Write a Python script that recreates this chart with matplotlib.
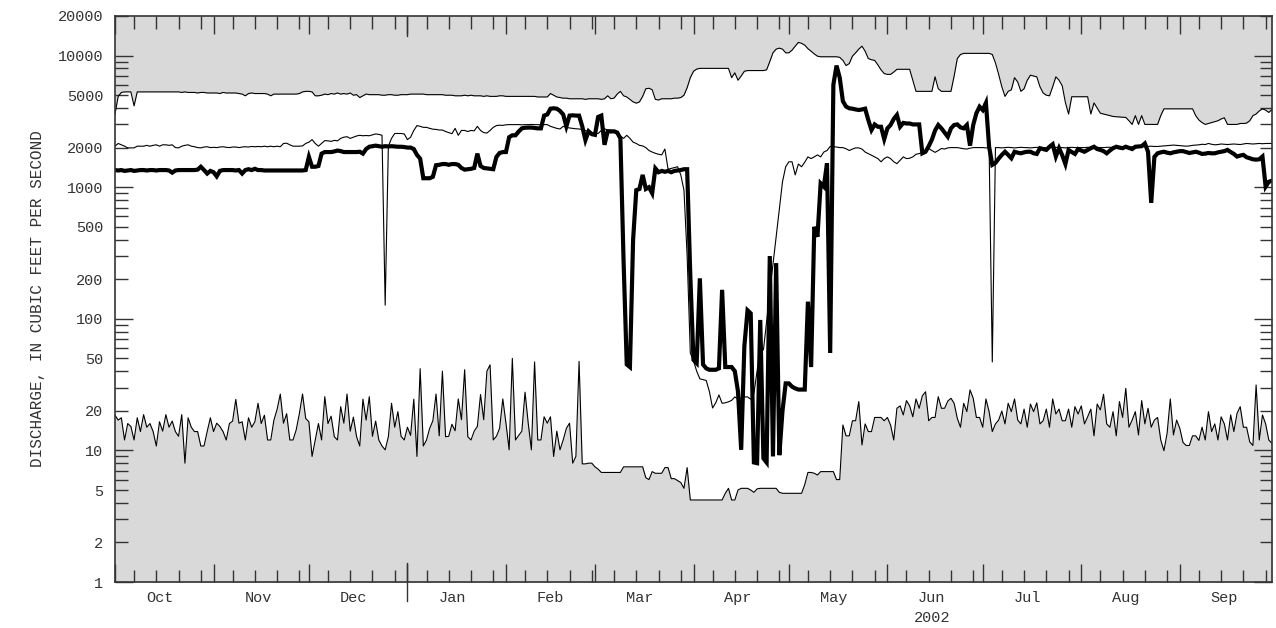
import numpy as np
import pandas as pd
import matplotlib
matplotlib.use("Agg")
import matplotlib.pyplot as plt
import matplotlib.dates as mdates
from matplotlib.ticker import FixedLocator, FuncFormatter, NullFormatter

plt.rcParams["font.family"] = ["Liberation Mono", "DejaVu Sans Mono"]

# water year 2002, one value per day (cfs); rows of 10 days, months Oct..Sep
dates = pd.date_range("2001-10-01", "2002-09-30", freq="D")

max_flow = [
    # Oct
    3600, 4900, 5250, 5300, 5300, 5300, 4150, 5300, 5300, 5300,
    5300, 5300, 5300, 5300, 5300, 5300, 5300, 5300, 5300, 5300,
    5300, 5250, 5300, 5250, 5250, 5250, 5200, 5250, 5250, 5200,
    5200,
    # Nov
    5200, 5200, 5150, 5250, 5200, 5200, 5200, 5200, 5150, 5100,
    4950, 5150, 5200, 5150, 5150, 5150, 5150, 5100, 4950, 5100,
    5100, 5100, 5100, 5100, 5100, 5100, 5100, 5150, 5300, 5350,
    # Dec
    5350, 5300, 4950, 4950, 5000, 5100, 5050, 5150, 5100, 5200,
    5100, 5150, 5100, 5200, 5000, 5050, 4800, 4950, 5100, 5050,
    5050, 5050, 5050, 5000, 5000, 5050, 5050, 5000, 5000, 5050,
    5050,
    # Jan
    5050, 5100, 5100, 5100, 5100, 5100, 5050, 5050, 5050, 5050,
    5050, 5050, 5000, 5000, 5000, 4950, 4950, 4950, 5000, 4950,
    5000, 4950, 4950, 4950, 4900, 4950, 4900, 4900, 4900, 4950,
    4950,
    # Feb
    4900, 4900, 4900, 4900, 4900, 4900, 4900, 4900, 4900, 4900,
    4850, 4850, 4850, 4850, 5150, 5000, 4850, 4800, 4750, 4750,
    4700, 4700, 4700, 4700, 4700, 4650, 4700, 4700,
    # Mar
    4700, 4700, 4650, 4700, 4950, 4700, 4750, 5100, 5350, 4950,
    4850, 4650, 4450, 4350, 4450, 4900, 5600, 5650, 5500, 4650,
    4600, 4700, 4700, 4700, 4700, 4750, 4750, 4800, 5000, 5700,
    6800,
    # Apr
    7600, 7900, 8000, 8000, 8000, 8000, 8000, 8000, 8000, 8000,
    8000, 8000, 6800, 7400, 6500, 7000, 7600, 7700, 7700, 7700,
    7700, 7700, 7700, 7800, 9000, 10500, 11200, 11400, 11200, 10500,
    # May
    10500, 11000, 11800, 12600, 12400, 12000, 11300, 10800, 10300, 9900,
    9800, 9800, 9800, 9800, 9800, 9800, 9700, 9200, 8400, 8700,
    9900, 10500, 11200, 11800, 10800, 9500, 9300, 9200, 8500, 7800,
    7300,
    # Jun
    7200, 7200, 7500, 7870, 7870, 7870, 7870, 7870, 6500, 5350,
    5350, 5350, 5350, 5350, 5350, 6900, 5600, 5350, 5350, 5350,
    5350, 7000, 9500, 10200, 10400, 10400, 10400, 10400, 10400, 10400,
    # Jul
    10400, 10400, 10400, 10200, 8800, 7200, 5800, 4900, 5350, 5500,
    6800, 6300, 5350, 5600, 6500, 7100, 7000, 6900, 5800, 5200,
    5000, 4950, 5800, 6900, 6500, 5900, 4400, 3600, 4870, 4870,
    4870,
    # Aug
    4870, 4870, 4870, 3600, 4370, 4000, 3650, 3600, 3550, 3500,
    3450, 3430, 3420, 3400, 3390, 3200, 3000, 3500, 3000, 3500,
    3000, 3000, 3000, 3000, 3000, 3500, 3940, 3940, 3940, 3940,
    3940,
    # Sep
    3940, 3940, 3940, 3940, 3940, 3500, 3240, 3100, 3000, 3050,
    3100, 3150, 3200, 3300, 3370, 3000, 3000, 3000, 3000, 3050,
    3050, 3070, 3200, 3500, 3600, 3800, 3940, 3850, 3700, 3900,
]

median_flow = [
    # Oct
    2050, 2150, 2100, 2050, 1990, 1990, 1990, 2050, 2050, 2050,
    2080, 2050, 2080, 2100, 2050, 2100, 2100, 2080, 2100, 2000,
    1990, 2050, 2080, 2100, 2050, 2030, 2000, 1990, 2020, 2030,
    2000,
    # Nov
    2010, 2000, 2020, 2030, 2010, 2000, 2020, 2020, 2000, 2020,
    2030, 2020, 2040, 2030, 2040, 2030, 2050, 2030, 2050, 2030,
    2050, 2030, 2150, 2160, 2100, 2050, 2050, 2050, 2060, 2150,
    # Dec
    2200, 2300, 2150, 2050, 2150, 2260, 2250, 2230, 2270, 2250,
    2350, 2400, 2420, 2350, 2400, 2450, 2480, 2460, 2470, 2460,
    2500, 2540, 2520, 2480, 127, 2050, 2350, 2560, 2560, 2560,
    2540,
    # Jan
    2300, 2400, 2700, 2940, 2900, 2850, 2850, 2800, 2760, 2750,
    2720, 2720, 2650, 2600, 2550, 2800, 2480, 2700, 2700, 2650,
    2700, 2680, 2900, 2700, 2600, 2580, 2700, 2850, 2940, 2960,
    2950,
    # Feb
    2980, 2990, 2990, 2990, 2990, 2980, 2990, 2990, 3000, 2990,
    2990, 2980, 2990, 2990, 2900, 2850, 2800, 2770, 2900, 2850,
    2820, 2800, 2780, 2770, 2740, 2700, 2650, 2600,
    # Mar
    2560, 2560, 2700, 2780, 2720, 2720, 2650, 2600, 2450, 2350,
    2480, 2350, 2200, 2150, 2080, 2060, 2000, 1900, 1850, 1810,
    1780, 1760, 1950, 1370, 1390, 1410, 1430, 1240, 950, 300,
    55,
    # Apr
    48, 40, 35, 34.5, 34, 28, 21, 23, 26.4, 22.8,
    23, 23.4, 24, 25.5, 24.5, 25, 25.5, 25.5, 24.5, 27,
    40, 59.5, 58, 95, 160, 260, 420, 680, 1100, 1430,
    # May
    1560, 1560, 1240, 1500, 1430, 1550, 1700, 1650, 1700, 1760,
    1700, 1850, 1900, 2040, 2030, 2020, 2000, 2000, 1960, 1900,
    1950, 1990, 1990, 1950, 1850, 1800, 1750, 1700, 1650, 1560,
    1650,
    # Jun
    1700, 1650, 1560, 1510, 1600, 1700, 1650, 1660, 1700, 1780,
    1800, 1840, 1900, 1970, 1900, 1840, 1900, 1970, 1950, 1990,
    2000, 2000, 2000, 1980, 1960, 1950, 1980, 2000, 2000, 2000,
    # Jul
    2000, 1990, 1990, 47, 2000, 2000, 1990, 2000, 2010, 2000,
    1990, 2000, 2010, 2000, 2000, 1990, 2000, 2010, 2000, 2000,
    1990, 2000, 2000, 2010, 2000, 2000, 1990, 2000, 2010, 2000,
    2000,
    # Aug
    2000, 2000, 2010, 2000, 2000, 2010, 2000, 2000, 2010, 2010,
    2000, 2010, 2020, 2010, 2020, 2030, 2020, 2030, 2040, 2030,
    2040, 2040, 2050, 2040, 2040, 2050, 2060, 2070, 2080, 2090,
    2080,
    # Sep
    2070, 2060, 2050, 2060, 2080, 2090, 2100, 2120, 2110, 2150,
    2120, 2100, 2110, 2130, 2120, 2110, 2120, 2130, 2120, 2110,
    2130, 2150, 2140, 2130, 2140, 2150, 2140, 2150, 2150, 2150,
]

min_flow = [
    # Oct
    18.5, 17, 17.7, 12, 16, 15.2, 12, 17.7, 13.9, 18.7,
    15, 16, 13.9, 10.8, 16.5, 14, 18.7, 15, 16.7, 13.9,
    12.8, 18.7, 8, 17.7, 15, 13.9, 13.9, 10.8, 10.8, 13.9,
    17.7,
    # Nov
    13.9, 16.1, 15.2, 13.9, 12, 16, 16.7, 24.4, 16.1, 16.5,
    12, 17.7, 15, 16.5, 22.8, 16, 18.5, 12, 12, 17,
    20.5, 26.8, 16.1, 19, 12, 12, 14.3, 19, 26.8, 17.5,
    # Dec
    16.5, 9, 12, 16, 12, 25.6, 16, 18.2, 12.7, 12,
    21.5, 16.1, 26.8, 14, 17.9, 12.7, 10.8, 24.5, 17, 25.6,
    12.8, 16.7, 12, 10.8, 10.1, 12.7, 22.8, 15, 19.7, 12.8,
    12,
    # Jan
    15, 13, 24.5, 9, 41.8, 10.8, 12, 14.7, 16.8, 26.8,
    12.9, 40, 12.7, 12.8, 15.8, 14.1, 24.6, 17.1, 41, 12.7,
    12, 14, 15.2, 26.6, 17.1, 40, 44.7, 12, 12.8, 14.7,
    24.6,
    # Feb
    16.1, 10.1, 50, 12, 13, 14, 27.7, 16.1, 10.1, 47,
    12, 12, 18, 16.1, 18, 9, 14, 10.1, 12, 14.7,
    16.1, 8, 9, 47.5, 7.9, 7.9, 8, 8,
    # Mar
    7.5, 7.2, 6.8, 6.8, 6.8, 6.8, 6.8, 6.8, 6.8, 7.5,
    7.5, 7.5, 7.5, 7.5, 7.5, 7.5, 6.2, 6.0, 6.9, 6.7,
    6.7, 6.7, 7.4, 7.4, 6.1, 6.1, 5.9, 5.7, 5.15, 7.4,
    4.2,
    # Apr
    4.2, 4.2, 4.2, 4.2, 4.2, 4.2, 4.2, 4.2, 4.2, 4.2,
    4.72, 5.15, 4.2, 4.2, 5.0, 5.15, 5.15, 5.15, 5.0, 4.8,
    5.1, 5.15, 5.15, 5.15, 5.15, 5.15, 5.15, 4.8, 4.72, 4.72,
    # May
    4.72, 4.72, 4.72, 4.72, 4.72, 5.5, 6.8, 6.8, 6.7, 6.5,
    6.9, 6.9, 6.9, 6.9, 6.9, 6.0, 6.0, 15.6, 12.9, 12.9,
    16.8, 16.8, 23.5, 11.0, 15.9, 13.9, 13.9, 17.8, 17.8, 17.8,
    16.8,
    # Jun
    17.8, 15.6, 12.0, 20.9, 21.8, 18.6, 23.9, 21.8, 18.0, 24.6,
    20.9, 26.0, 27.9, 16.8, 17.8, 17.8, 25.6, 20.9, 20.9, 23.7,
    24.9, 22.8, 17.5, 15.0, 22.8, 19.7, 28.8, 24.9, 17.8, 17.8,
    # Jul
    15.0, 24.6, 19.7, 13.9, 15.9, 17.0, 19.9, 15.9, 22.8, 19.7,
    24.6, 17.0, 15.9, 20.6, 15.0, 22.5, 19.7, 23.0, 15.9, 16.8,
    20.6, 15.0, 24.6, 18.9, 20.6, 16.8, 16.8, 20.6, 15.0, 21.5,
    18.9,
    # Aug
    21.8, 15.9, 18.0, 20.6, 12.9, 22.5, 20.3, 26.7, 15.9, 15.0,
    19.7, 12.9, 23.5, 17.8, 29.6, 15.0, 17.0, 19.7, 13.1, 23.9,
    15.9, 20.9, 15.0, 17.0, 17.8, 12.0, 9.95, 13.5, 24.6, 13.1,
    17.0,
    # Sep
    14.7, 11.5, 10.9, 10.9, 12.9, 12.9, 11.9, 15.0, 12.0, 19.7,
    13.9, 15.9, 12.0, 18.0, 15.9, 12.0, 18.6, 13.9, 19.1, 21.5,
    15.0, 15.0, 11.6, 10.9, 31.4, 12.0, 18.6, 15.9, 12.0, 11.3,
]

flow_2002 = [
    # Oct
    1350, 1340, 1350, 1330, 1340, 1350, 1330, 1340, 1350, 1350,
    1340, 1350, 1350, 1340, 1350, 1350, 1350, 1340, 1290, 1340,
    1350, 1350, 1350, 1350, 1350, 1350, 1360, 1430, 1350, 1270,
    1330,
    # Nov
    1300, 1210, 1330, 1350, 1350, 1350, 1350, 1340, 1350, 1270,
    1350, 1370, 1350, 1380, 1350, 1350, 1340, 1340, 1340, 1340,
    1340, 1340, 1340, 1340, 1340, 1340, 1340, 1340, 1340, 1350,
    # Dec
    1700, 1430, 1430, 1450, 1800, 1850, 1850, 1850, 1870, 1900,
    1880, 1850, 1850, 1850, 1850, 1850, 1860, 1800, 1950, 2030,
    2050, 2070, 2050, 2030, 2050, 2040, 2050, 2040, 2030, 2030,
    2020,
    # Jan
    2000, 2000, 1950, 1760, 1650, 1170, 1170, 1170, 1200, 1470,
    1480, 1500, 1500, 1480, 1500, 1500, 1480, 1400, 1360, 1370,
    1380, 1400, 1800, 1450, 1400, 1390, 1380, 1370, 1700, 1820,
    1850,
    # Feb
    1850, 2400, 2480, 2480, 2650, 2800, 2830, 2840, 2840, 2820,
    2800, 2800, 3500, 3570, 3950, 3980, 3950, 3800, 3570, 2900,
    3500, 3520, 3500, 3500, 2900, 2280, 2660, 2530,
    # Mar
    2500, 3420, 3500, 2100, 2660, 2650, 2660, 2600, 2350, 275,
    45, 43, 400, 950, 970, 1240, 970, 1000, 900, 1390,
    1300, 1330, 1310, 1330, 1300, 1330, 1340, 1350, 1370, 1370,
    210,
    # Apr
    48.7, 46, 203, 45, 42, 41, 41, 41, 42, 166,
    43, 43, 43, 40, 28, 10.1, 62, 116, 110, 8.1,
    8.0, 98, 8.7, 8.1, 300, 9, 265, 9.2, 20, 32.3,
    # May
    32.3, 30.5, 29.6, 29, 29, 29, 135, 43, 500, 420,
    1070, 1010, 1520, 55, 6000, 8400, 6800, 4500, 4100, 3980,
    3950, 3900, 3860, 3900, 3950, 3240, 2720, 3000, 2880, 2880,
    2320,
    # Jun
    2800, 2970, 3300, 3540, 2880, 3080, 3050, 3050, 3000, 3000,
    3000, 1810, 1860, 2050, 2300, 2700, 2970, 2800, 2600, 2420,
    2800, 2970, 3000, 2850, 2800, 2970, 2070, 2970, 3650, 4090,
    # Jul
    3860, 4370, 2030, 1480, 1530, 1650, 1760, 1860, 1760, 1660,
    1860, 1830, 1810, 1840, 1860, 1860, 1810, 1790, 1980, 1950,
    1920, 2030, 2120, 1710, 1980, 1750, 1500, 1920, 1850, 1790,
    1950,
    # Aug
    1900, 1860, 1920, 1980, 2030, 1950, 1920, 1880, 1810, 1900,
    1980, 2030, 2000, 1980, 2030, 1990, 1950, 2030, 2040, 2050,
    2150, 1860, 760, 1700, 1810, 1840, 1860, 1830, 1810, 1840,
    1860,
    # Sep
    1880, 1880, 1850, 1820, 1840, 1860, 1830, 1790, 1800, 1820,
    1810, 1810, 1840, 1860, 1880, 1920, 1850, 1790, 1710, 1740,
    1760, 1690, 1660, 1630, 1620, 1630, 1710, 1010, 1100, 1120,
]

for name, s in [("max", max_flow), ("median", median_flow),
                ("min", min_flow), ("2002", flow_2002)]:
    assert len(s) == len(dates), (name, len(s))

month_names = ["Oct", "Nov", "Dec", "Jan", "Feb", "Mar",
               "Apr", "May", "Jun", "Jul", "Aug", "Sep"]

ink = "#333333"
shade = "#d9d9d9"

fig = plt.figure(figsize=(12.76, 6.28), dpi=100)
ax = fig.add_axes([115 / 1276, 46 / 628, 1157 / 1276, 566 / 628])

ax.fill_between(dates, max_flow, 20000, color=shade, lw=0)
ax.fill_between(dates, 0.5, min_flow, color=shade, lw=0)
ax.plot(dates, max_flow, color="black", lw=0.8)
ax.plot(dates, min_flow, color="black", lw=0.8)
ax.plot(dates, median_flow, color="black", lw=0.8)
ax.plot(dates, flow_2002, color="black", lw=3.0, solid_joinstyle="miter")

ax.set_yscale("log")
ax.set_ylim(1, 20000)
ax.set_xlim(dates[0], dates[-1])

# y ticks: long at decades, short at 2..9, labels at 1-2-5
ax.yaxis.set_major_locator(FixedLocator([1, 10, 100, 1000, 10000]))
minor_y = [m * 10 ** e for e in range(5) for m in range(2, 10) if m * 10 ** e <= 20000]
ax.yaxis.set_minor_locator(FixedLocator(minor_y))
ax.yaxis.set_major_formatter(FuncFormatter(lambda v, p: f"{v:g}"))
ax.yaxis.set_minor_formatter(
    FuncFormatter(lambda v, p: f"{v:g}" if f"{v:g}"[0] in "25" else ""))

ax.xaxis.set_major_locator(mdates.MonthLocator())
ax.xaxis.set_minor_locator(mdates.DayLocator(bymonthday=[7, 14, 21, 28]))
ax.xaxis.set_major_formatter(NullFormatter())
ax.xaxis.set_minor_formatter(NullFormatter())

ax.tick_params(which="both", direction="in", color=ink, width=1,
               left=True, right=True, top=True, bottom=True,
               labelsize=11, labelcolor=ink, pad=8.5)
ax.tick_params(which="major", length=13)
ax.tick_params(which="minor", length=9)

for s in ax.spines.values():
    s.set_color(ink)
    s.set_linewidth(1.2)

# month names centred on the 15th, year under June
xt = ax.get_xaxis_transform()
for d, name in zip(pd.date_range("2001-10-15", periods=12, freq=pd.DateOffset(months=1)),
                   month_names):
    ax.text(d, -0.028, name, transform=xt, ha="center", va="center",
            fontsize=11, color=ink)
ax.text(pd.Timestamp("2002-06-15"), -0.064, "2002", transform=xt,
        ha="center", va="center", fontsize=11, color=ink)

# year boundary tick
jan1 = pd.Timestamp("2002-01-01")
ax.plot([jan1, jan1], [-0.034, 0.034], transform=xt, color=ink, lw=1, clip_on=False)
ax.plot([jan1, jan1], [1 - 0.035, 1], transform=xt, color=ink, lw=1, clip_on=False)

fig.text(38 / 1276, 1 - 299 / 628, "DISCHARGE, IN CUBIC FEET PER SECOND",
         rotation=90, ha="center", va="center", fontsize=11.5, color=ink)

fig.savefig("out.png", dpi=100)
